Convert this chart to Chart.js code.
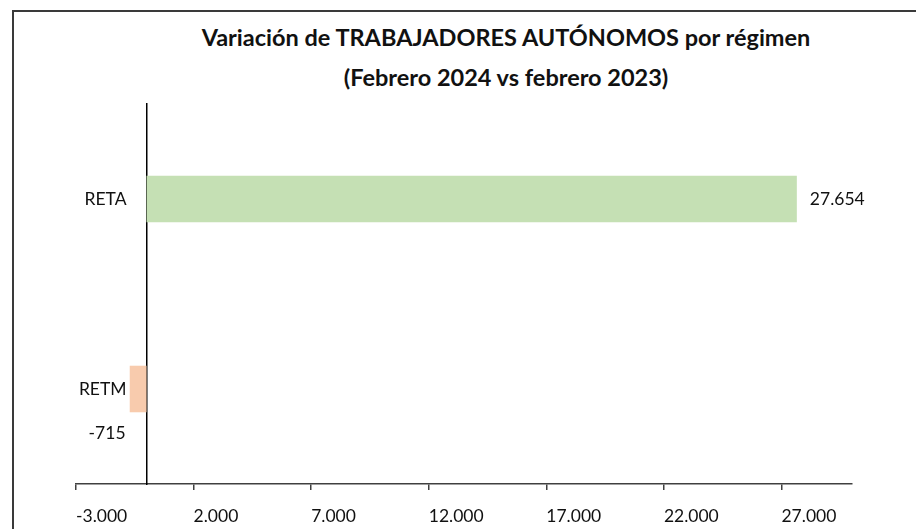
<!DOCTYPE html>
<html>
<head>
<meta charset="utf-8">
<script src="https://cdn.jsdelivr.net/npm/chart.js@4"></script>
<style>
  html, body { margin: 0; padding: 0; width: 916px; height: 529px; overflow: hidden; background: #fff; }
  #frame { position: absolute; left: 12px; top: 10px; width: 1000px; height: 1000px;
           border-left: 2px solid #3a3a3a; border-top: 2px solid #3a3a3a; }
  #title { position: absolute; left: 0; top: 17px; width: 1012px; text-align: center;
           font-family: Lato, "Open Sans", sans-serif; font-weight: bold; font-size: 23.5px;
           line-height: 40px; color: #111; }
  canvas { position: absolute; left: 0; top: 0; }
</style>
</head>
<body>
<div id="frame"></div>
<div id="title">Variación de TRABAJADORES AUTÓNOMOS por régimen<br>(Febrero 2024 vs febrero 2023)</div>
<canvas id="chart" width="916" height="529"></canvas>
<script>
// datos
const categories = ['RETA', 'RETM'];
const variation = [27654, -715];
const barColors = ['#C5E0B4', '#F8CBAD'];
const xTicks = [-3000, 2000, 7000, 12000, 17000, 22000, 27000];

const fontFamily = 'Lato, "Open Sans", sans-serif';

function fmt(v) {
    const s = Math.abs(v).toString().replace(/\B(?=(\d{3})+(?!\d))/g, '.');
    return (v < 0 ? '-' : '') + s;
}

// etiquetas de categoría junto al eje y valores de las barras
const labelsPlugin = {
    id: 'labelsPlugin',
    afterDatasetsDraw(chart) {
        const { ctx, scales: { x, y } } = chart;
        const zeroX = x.getPixelForValue(0);
        ctx.save();
        ctx.font = '17.5px ' + fontFamily;
        ctx.fillStyle = '#111';
        ctx.textBaseline = 'middle';

        ctx.textAlign = 'right';
        categories.forEach((c, i) => {
            ctx.fillText(c, zeroX - 20, y.getPixelForValue(i));
        });

        const meta = chart.getDatasetMeta(0);
        meta.data.forEach((bar, i) => {
            const v = variation[i];
            const p = bar.getProps(['x', 'y', 'base', 'height'], true);
            if (v >= 0) {
                ctx.textAlign = 'left';
                ctx.fillText(fmt(v), p.x + 13, p.y);
            } else {
                ctx.textAlign = 'right';
                ctx.fillText(fmt(v), zeroX - 21, p.y + p.height / 2 + 21);
            }
        });
        ctx.restore();
    }
};

new Chart(document.getElementById('chart'), {
    type: 'bar',
    data: {
        labels: categories,
        datasets: [{
            data: variation,
            backgroundColor: barColors,
            borderWidth: 0,
            barPercentage: 1,
            categoryPercentage: 0.245
        }]
    },
    options: {
        indexAxis: 'y',
        responsive: false,
        animation: false,
        devicePixelRatio: 1,
        layout: { padding: { left: 76, right: 64, top: 104, bottom: 0 } },
        plugins: {
            legend: { display: false },
            title: { display: false },
            tooltip: { enabled: false }
        },
        scales: {
            x: {
                type: 'linear',
                min: -3000,
                max: 30000,
                afterBuildTicks: scale => { scale.ticks = xTicks.map(v => ({ value: v })); },
                afterFit: scale => { scale.height = 45; },
                grid: { display: true, drawOnChartArea: false, drawTicks: true, tickLength: 6, color: '#404040', lineWidth: 1.5 },
                border: { display: true, color: '#404040', width: 1.5 },
                ticks: {
                    align: 'start',
                    padding: 16,
                    color: '#111',
                    font: { family: fontFamily, size: 17.5 },
                    callback: v => fmt(v)
                }
            },
            y: {
                position: { x: 0 },
                grid: { display: false, drawTicks: false },
                border: { display: true, color: '#000', width: 1.5 },
                ticks: { display: false }
            }
        }
    },
    plugins: [labelsPlugin]
});
</script>
</body>
</html>
